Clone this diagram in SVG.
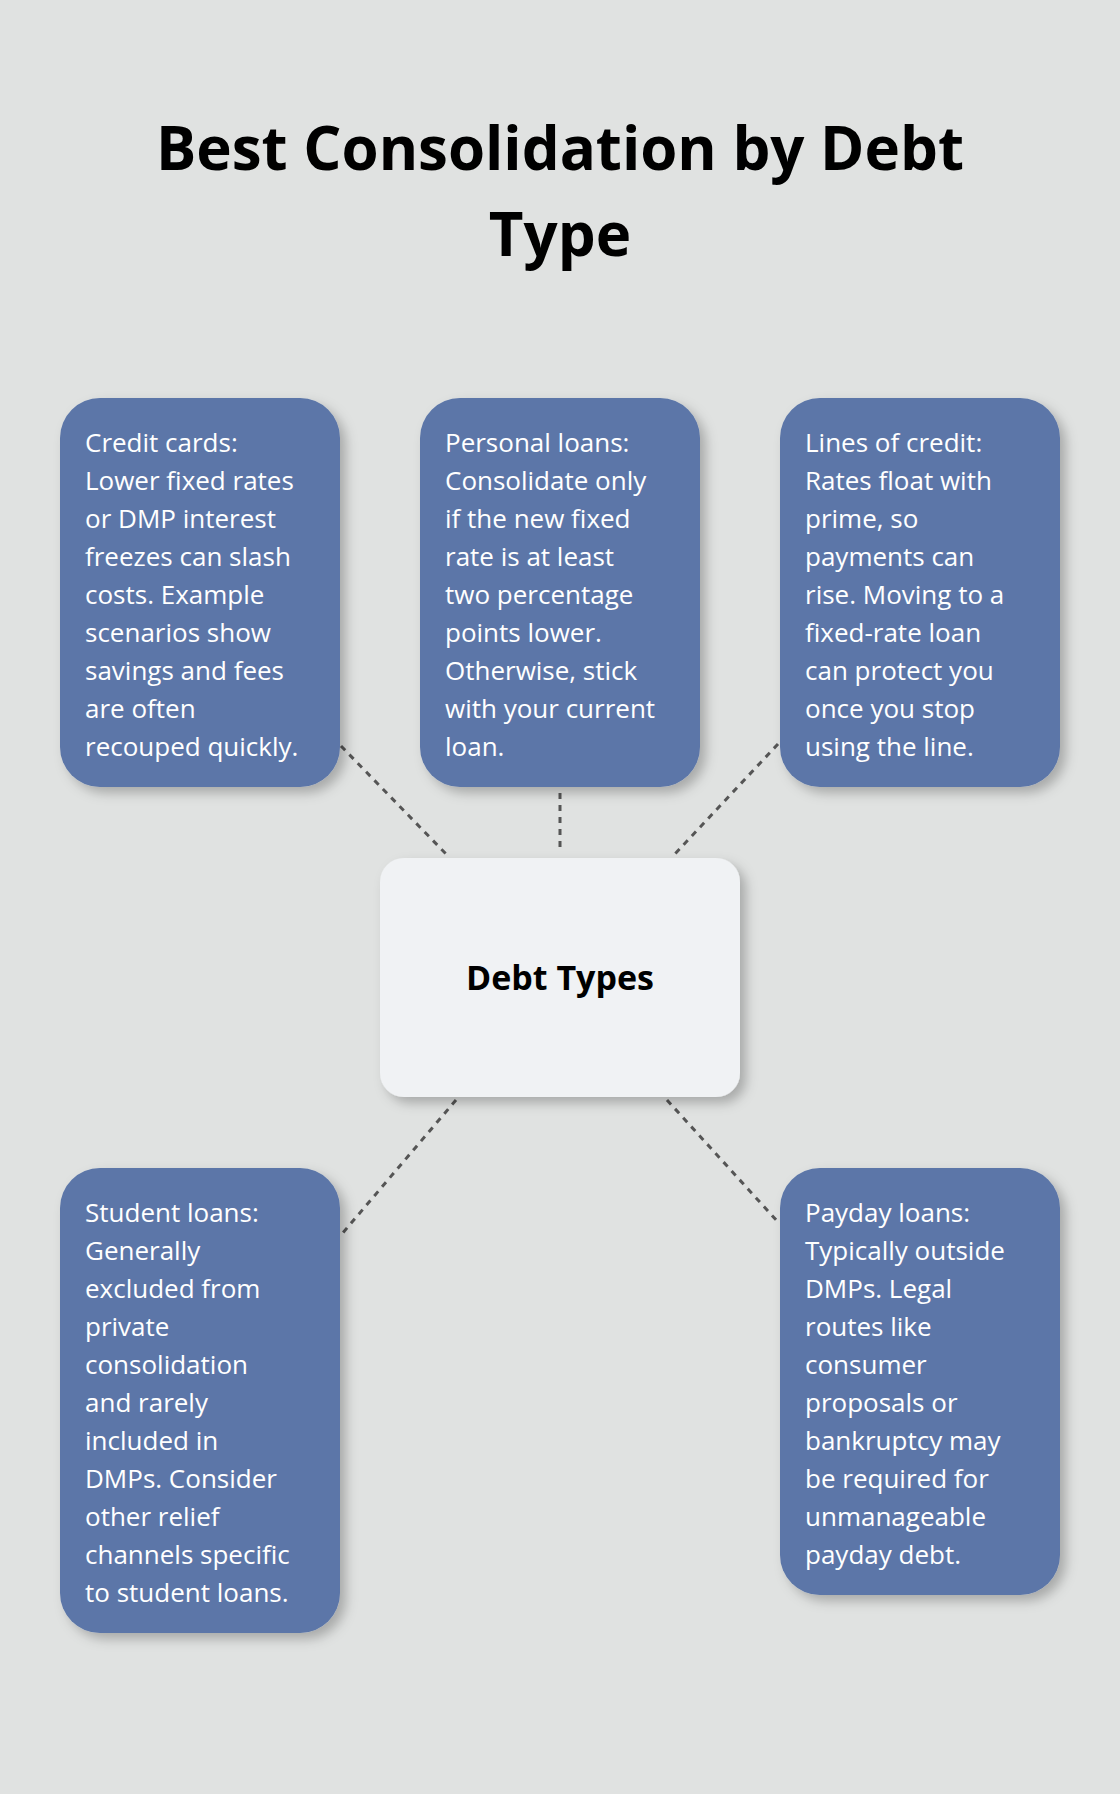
<svg xmlns="http://www.w3.org/2000/svg" width="1120" height="1794" viewBox="0 0 1120 1794">
<defs>
<filter id="sh" x="-20%" y="-20%" width="150%" height="150%"><feDropShadow dx="6" dy="6" stdDeviation="6" flood-color="#000" flood-opacity="0.25"/></filter>
<style>
.box{fill:#5b76a8;filter:url(#sh)}
.t{font-family:"Open Sans","Noto Sans",sans-serif;font-size:26px;fill:#fff}
.c{stroke:#555;stroke-width:3;stroke-dasharray:6 6;fill:none}
</style>
</defs>
<rect width="1120" height="1794" fill="#e0e2e1"/>
<g id="title" font-family="'Open Sans','Noto Sans',sans-serif" font-weight="bold" font-size="60" text-anchor="middle" fill="#000">
<text x="560" y="170">Best Consolidation by Debt</text>
<text x="560" y="256">Type</text>
</g>
<g id="connectors">
<line class="c" x1="341" y1="746" x2="448" y2="856"/>
<line class="c" x1="560" y1="793" x2="560" y2="852"/>
<line class="c" x1="778" y1="744" x2="673" y2="856"/>
<line class="c" x1="456" y1="1100" x2="341" y2="1235"/>
<line class="c" x1="667" y1="1100" x2="778" y2="1222"/>
</g>
<g id="center">
<rect x="380" y="858" width="360" height="239" rx="24" fill="#f0f2f4" filter="url(#sh)"/>
<text x="560" y="990" text-anchor="middle" font-family="'Open Sans','Noto Sans',sans-serif" font-weight="bold" font-size="34" fill="#000">Debt Types</text>
</g>
<g id="credit">
<rect class="box" x="60" y="398" width="280" height="389" rx="40"/>
<text class="t" x="85" y="452"><tspan x="85">Credit cards:</tspan><tspan x="85" dy="38">Lower fixed rates</tspan><tspan x="85" dy="38">or DMP interest</tspan><tspan x="85" dy="38">freezes can slash</tspan><tspan x="85" dy="38">costs. Example</tspan><tspan x="85" dy="38">scenarios show</tspan><tspan x="85" dy="38">savings and fees</tspan><tspan x="85" dy="38">are often</tspan><tspan x="85" dy="38">recouped quickly.</tspan></text>
</g>
<g id="personal">
<rect class="box" x="420" y="398" width="280" height="389" rx="40"/>
<text class="t" x="445" y="452"><tspan x="445">Personal loans:</tspan><tspan x="445" dy="38">Consolidate only</tspan><tspan x="445" dy="38">if the new fixed</tspan><tspan x="445" dy="38">rate is at least</tspan><tspan x="445" dy="38">two percentage</tspan><tspan x="445" dy="38">points lower.</tspan><tspan x="445" dy="38">Otherwise, stick</tspan><tspan x="445" dy="38">with your current</tspan><tspan x="445" dy="38">loan.</tspan></text>
</g>
<g id="lines">
<rect class="box" x="780" y="398" width="280" height="389" rx="40"/>
<text class="t" x="805" y="452"><tspan x="805">Lines of credit:</tspan><tspan x="805" dy="38">Rates float with</tspan><tspan x="805" dy="38">prime, so</tspan><tspan x="805" dy="38">payments can</tspan><tspan x="805" dy="38">rise. Moving to a</tspan><tspan x="805" dy="38">fixed-rate loan</tspan><tspan x="805" dy="38">can protect you</tspan><tspan x="805" dy="38">once you stop</tspan><tspan x="805" dy="38">using the line.</tspan></text>
</g>
<g id="student">
<rect class="box" x="60" y="1168" width="280" height="465" rx="40"/>
<text class="t" x="85" y="1222"><tspan x="85">Student loans:</tspan><tspan x="85" dy="38">Generally</tspan><tspan x="85" dy="38">excluded from</tspan><tspan x="85" dy="38">private</tspan><tspan x="85" dy="38">consolidation</tspan><tspan x="85" dy="38">and rarely</tspan><tspan x="85" dy="38">included in</tspan><tspan x="85" dy="38">DMPs. Consider</tspan><tspan x="85" dy="38">other relief</tspan><tspan x="85" dy="38">channels specific</tspan><tspan x="85" dy="38">to student loans.</tspan></text>
</g>
<g id="payday">
<rect class="box" x="780" y="1168" width="280" height="427" rx="40"/>
<text class="t" x="805" y="1222"><tspan x="805">Payday loans:</tspan><tspan x="805" dy="38">Typically outside</tspan><tspan x="805" dy="38">DMPs. Legal</tspan><tspan x="805" dy="38">routes like</tspan><tspan x="805" dy="38">consumer</tspan><tspan x="805" dy="38">proposals or</tspan><tspan x="805" dy="38">bankruptcy may</tspan><tspan x="805" dy="38">be required for</tspan><tspan x="805" dy="38">unmanageable</tspan><tspan x="805" dy="38">payday debt.</tspan></text>
</g>
</svg>
